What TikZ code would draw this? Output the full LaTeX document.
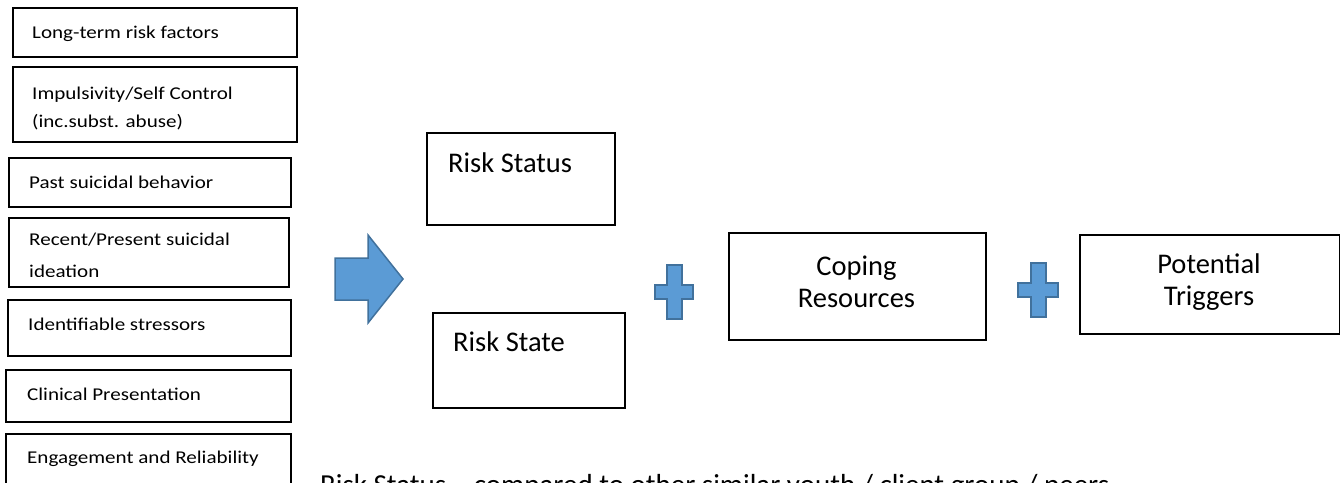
\documentclass[tikz,border=0pt]{standalone}
\usepackage{fontspec}
\setmainfont{Carlito}
\newfontfamily\leftfont[FakeStretch=1.17]{Carlito}
\definecolor{myblue}{HTML}{5B9BD5}
\definecolor{myborder}{HTML}{41719C}
\begin{document}
\begin{tikzpicture}[x=1pt,y=-1pt,
  lbox/.style={draw=black,line width=2pt,anchor=north west,inner sep=0pt},
  rbox/.style={draw=black,line width=1.5pt,anchor=north west,inner sep=0pt},
  ltxt/.style={anchor=base west,inner sep=0pt,font=\leftfont\fontsize{18}{22}\selectfont},
  btxt/.style={anchor=base west,inner sep=0pt,font=\fontsize{28.5}{34}\selectfont},
  ctxt/.style={anchor=base,inner sep=0pt,font=\fontsize{28.5}{34}\selectfont},
  blueshape/.style={fill=myblue,draw=myborder,line width=1.5pt,line join=miter}]
\useasboundingbox (0,0) rectangle (1340,482);
\clip (0,0) rectangle (1340,482);
% left column boxes
\node[lbox,minimum width=284pt,minimum height=49pt] (b1) at (12,7) {};
\node[lbox,minimum width=284pt,minimum height=75pt] (b2) at (12,66) {};
\node[lbox,minimum width=282pt,minimum height=49pt] (b3) at (8,157) {};
\node[lbox,minimum width=280pt,minimum height=69pt] (b4) at (8,217) {};
\node[lbox,minimum width=283pt,minimum height=56pt] (b5) at (7,299) {};
\node[lbox,minimum width=285pt,minimum height=52pt] (b6) at (5,369) {};
\node[lbox,minimum width=285pt,minimum height=67pt] (b7) at (5,433) {};
\node[ltxt] (t1) at (32,38) {Long-term risk factors};
\node[ltxt] (t2a) at (32,99) {Impulsivity/Self Control};
\node[ltxt] (t2b) at (32,127) {(inc.subst. abuse)};
\node[ltxt] (t3) at (29,188) {Past suicidal behavior};
\node[ltxt] (t4a) at (29,245) {Recent/Present suicidal};
\begin{scope}
\clip (8,217) rectangle (288,276);
\node[ltxt] (t4b) at (29,277) {ideation};
\end{scope}
\node[ltxt] (t5) at (28,330) {Identifiable stressors};
\node[ltxt] (t6) at (27,400) {Clinical Presentation};
\node[ltxt] (t7) at (27,463) {Engagement and Reliability};
% big arrow
\draw[blueshape] (335,258) -- (368,258) -- (368,235) -- (403,279) -- (368,323) -- (368,300) -- (335,300) -- cycle;
% right boxes
\node[rbox,minimum width=188pt,minimum height=92pt] (rs) at (426,132) {};
\node[btxt] (rst) at (448,172) {Risk Status};
\node[rbox,minimum width=192pt,minimum height=95pt] (rt) at (432,312) {};
\node[btxt] (rtt) at (453,351) {Risk State};
\node[rbox,minimum width=257pt,minimum height=107pt] (cr) at (728,232) {};
\node[ctxt] (cr1) at (856.5,275) {Coping};
\node[ctxt] (cr2) at (856.5,307) {Resources};
\node[rbox,minimum width=260pt,minimum height=99pt] (pt) at (1079,234) {};
\node[ctxt] (pt1) at (1209,273) {Potential};
\node[ctxt] (pt2) at (1209,305) {Triggers};
% plus signs
\draw[blueshape] (667,265) -- (682,265) -- (682,285) -- (693,285) -- (693,299) -- (682,299) -- (682,319) -- (667,319) -- (667,299) -- (655,299) -- (655,285) -- (667,285) -- cycle;
\draw[blueshape] (1031,263) -- (1046,263) -- (1046,283) -- (1058,283) -- (1058,297) -- (1046,297) -- (1046,317) -- (1031,317) -- (1031,297) -- (1018,297) -- (1018,283) -- (1031,283) -- cycle;
% bottom caption (cut off by page edge)
\node[anchor=base west,inner sep=0pt,font=\fontsize{29}{34}\selectfont] (cap) at (320,494) {Risk Status -- compared to other similar youth / client group / peers};
\end{tikzpicture}
\end{document}
